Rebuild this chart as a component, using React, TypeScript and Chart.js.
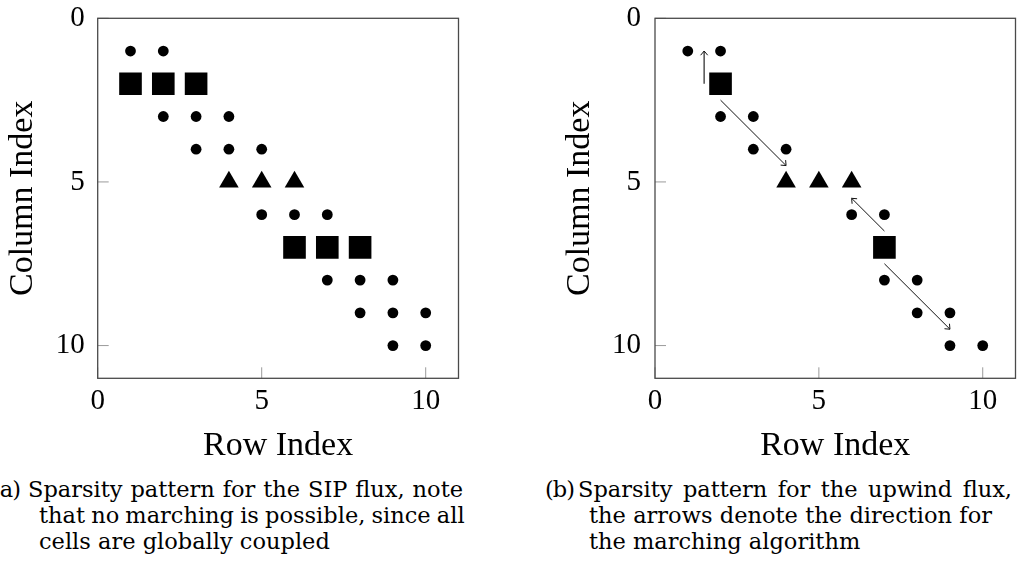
import React, { useEffect, useRef } from "react";
import { Chart, registerables } from "chart.js";

Chart.register(...registerables);

// ---- data ----
const axisMin = 0;
const axisMax = 11;
const xTickValues = [0, 5, 10];
const yTickValues = [0, 5, 10];
const xAxisTitle = "Row Index";
const yAxisTitle = "Column Index";

// (a) SIP flux sparsity pattern: [row, column]
const sipCircles = [
  [1, 1], [2, 1],
  [2, 3], [3, 3], [4, 3],
  [3, 4], [4, 4], [5, 4],
  [5, 6], [6, 6], [7, 6],
  [7, 8], [8, 8], [9, 8],
  [8, 9], [9, 9], [10, 9],
  [9, 10], [10, 10],
];
const sipSquares = [[1, 2], [2, 2], [3, 2], [6, 7], [7, 7], [8, 7]];
const sipTriangles = [[4, 5], [5, 5], [6, 5]];

// (b) upwind flux sparsity pattern
const upwindCircles = [
  [1, 1], [2, 1],
  [2, 3], [3, 3],
  [3, 4], [4, 4],
  [6, 6], [7, 6],
  [7, 8], [8, 8],
  [8, 9], [9, 9],
  [9, 10], [10, 10],
];
const upwindSquares = [[2, 2], [7, 7]];
const upwindTriangles = [[4, 5], [5, 5], [6, 5]];
// marching arrows: [x0, y0, x1, y1]
const upwindArrows = [
  [1.5, 2, 1.5, 1],
  [2, 2.5, 4, 4.5],
  [7, 6.5, 6, 5.5],
  [7, 7.5, 9, 9.5],
];

const captionALabel = "(a)";
const captionALines = [
  "Sparsity pattern for the SIP flux, note",
  "that no marching is possible, since all",
  "cells are globally coupled",
];
const captionBLabel = "(b)";
const captionBLines = [
  "Sparsity pattern for the upwind flux,",
  "the arrows denote the direction for",
  "the marching algorithm",
];

const toPts = (arr: number[][]) => arr.map(([x, y]) => ({ x, y }));

type PanelProps = {
  left: number;
  width: number;
  height: number;
  yAxisWidth: number;
  padRight: number;
  yTitlePad: number;
  yTickPad: number;
  circles: number[][];
  squares: number[][];
  triangles: number[][];
  arrows: number[][];
};

function Panel(props: PanelProps) {
  const ref = useRef<HTMLCanvasElement | null>(null);
  useEffect(() => {
    const canvas = ref.current;
    if (!canvas) return;
    const chartTop = 18.3;
    const plotBottom = 378.3;
    const xAxisHeight = props.height - plotBottom;

    const decorPlugin = {
      id: "decor",
      afterDatasetsDraw(chart: any) {
        const { ctx, chartArea } = chart;
        const xs = chart.scales.x;
        const ys = chart.scales.y;
        ctx.save();
        // arrows
        props.arrows.forEach((a, i) => {
          const x0 = xs.getPixelForValue(a[0]);
          const y0 = ys.getPixelForValue(a[1]);
          const x1 = xs.getPixelForValue(a[2]);
          const y1 = ys.getPixelForValue(a[3]);
          ctx.strokeStyle = i === 0 ? "#5a5a5a" : "#111";
          ctx.lineWidth = i === 0 ? 1.6 : 1;
          ctx.beginPath();
          ctx.moveTo(x0, y0);
          ctx.lineTo(x1, y1);
          ctx.stroke();
          const ang = Math.atan2(y1 - y0, x1 - x0);
          const hl = 5.5;
          ctx.strokeStyle = "#111";
          ctx.lineWidth = 1;
          ctx.beginPath();
          ctx.moveTo(x1 - hl * Math.cos(ang - 0.7), y1 - hl * Math.sin(ang - 0.7));
          ctx.lineTo(x1, y1);
          ctx.lineTo(x1 - hl * Math.cos(ang + 0.7), y1 - hl * Math.sin(ang + 0.7));
          ctx.stroke();
        });
        // inward ticks
        ctx.strokeStyle = "#9a9a9a";
        ctx.lineWidth = 1;
        xs.ticks.forEach((t: any) => {
          const px = xs.getPixelForValue(t.value);
          ctx.beginPath();
          ctx.moveTo(px, chartArea.bottom);
          ctx.lineTo(px, chartArea.bottom - 11);
          ctx.stroke();
        });
        ys.ticks.forEach((t: any) => {
          const py = ys.getPixelForValue(t.value);
          ctx.beginPath();
          ctx.moveTo(chartArea.left, py);
          ctx.lineTo(chartArea.left + 11, py);
          ctx.stroke();
        });
        // frame
        ctx.strokeStyle = "#4a4a4a";
        ctx.lineWidth = 1.3;
        ctx.strokeRect(
          chartArea.left,
          chartArea.top,
          chartArea.right - chartArea.left,
          chartArea.bottom - chartArea.top
        );
        ctx.restore();
      },
    };

    const tickFont = { family: "'Liberation Serif'", size: 29 };
    const titleFont = { family: "'Liberation Serif'", size: 34 };

    const chart = new Chart(canvas, {
      type: "scatter",
      data: {
        datasets: [
          {
            data: toPts(props.circles),
            pointStyle: "circle",
            pointRadius: 5.4,
            backgroundColor: "#000",
            borderWidth: 0,
          },
          {
            data: toPts(props.squares),
            pointStyle: "rect",
            pointRadius: 16,
            backgroundColor: "#000",
            borderWidth: 0,
          },
          {
            data: toPts(props.triangles),
            pointStyle: "triangle",
            pointRadius: 11.3,
            backgroundColor: "#000",
            borderWidth: 0,
          },
        ],
      },
      plugins: [decorPlugin],
      options: {
        animation: false,
        responsive: false,
        devicePixelRatio: 1,
        events: [],
        layout: {
          autoPadding: false,
          padding: { top: chartTop, right: props.padRight, left: 0, bottom: 0 },
        },
        plugins: { legend: { display: false }, tooltip: { enabled: false } },
        scales: {
          x: {
            type: "linear",
            position: "bottom",
            min: axisMin,
            max: axisMax,
            afterBuildTicks: (s: any) => {
              s.ticks = xTickValues.map((v) => ({ value: v }));
            },
            afterFit: (s: any) => {
              s.height = xAxisHeight;
              s.paddingLeft = 0;
              s.paddingRight = 0;
              s.paddingTop = 0;
              s.paddingBottom = 0;
            },
            grid: { display: false, drawTicks: false },
            border: { display: false },
            ticks: { font: tickFont, color: "#000", padding: 5.5, maxRotation: 0, autoSkip: false },
            title: {
              display: true,
              text: xAxisTitle,
              font: titleFont,
              color: "#000",
              padding: { top: 0, bottom: 3.3 },
            },
          },
          y: {
            type: "linear",
            reverse: true,
            min: axisMin,
            max: axisMax,
            afterBuildTicks: (s: any) => {
              s.ticks = yTickValues.map((v) => ({ value: v }));
            },
            afterFit: (s: any) => {
              s.width = props.yAxisWidth;
              s.paddingLeft = 0;
              s.paddingRight = 0;
              s.paddingTop = 0;
              s.paddingBottom = 0;
            },
            grid: { display: false, drawTicks: false },
            border: { display: false },
            ticks: { font: tickFont, color: "#000", padding: props.yTickPad, autoSkip: false },
            title: {
              display: true,
              text: yAxisTitle,
              font: titleFont,
              color: "#000",
              padding: { top: props.yTitlePad, bottom: 0 },
            },
          },
        },
      } as any,
    });
    return () => chart.destroy();
  }, []);
  return (
    <canvas
      ref={ref}
      width={props.width}
      height={props.height}
      style={{ position: "absolute", left: props.left, top: 0, width: props.width, height: props.height }}
    />
  );
}

const capFont: React.CSSProperties = {
  position: "absolute",
  fontFamily: "'DejaVu Serif'",
  fontSize: 22.5,
  lineHeight: "26px",
  whiteSpace: "nowrap",
  color: "#000",
};

type CaptionProps = {
  label: string;
  lines: string[];
  labelLeft: number;
  firstLeft: number;
  restLeft: number;
  widths: number[];
  spacing: number[];
};

function Caption(props: CaptionProps) {
  const tops = [476.2, 502.2, 527.6];
  return (
    <>
      <div style={{ ...capFont, left: props.labelLeft, top: tops[0], letterSpacing: -1 }}>{props.label}</div>
      {props.lines.map((l, i) => (
        <div
          key={i}
          style={{
            ...capFont,
            left: i === 0 ? props.firstLeft : props.restLeft,
            top: tops[i],
            width: props.widths[i],
            textAlign: "justify",
            textAlignLast: i < 2 ? "justify" : "left",
            wordSpacing: props.spacing[i],
          }}
        >
          {l}
        </div>
      ))}
    </>
  );
}

export default function App() {
  return (
    <div
      style={{
        position: "fixed",
        left: 0,
        top: 0,
        width: 1019,
        height: 577,
        background: "#fff",
        overflow: "hidden",
      }}
    >
      <Panel
        left={0}
        width={470}
        height={470}
        yAxisWidth={97.7}
        padRight={11.5}
        yTitlePad={2.2}
        yTickPad={13}
        circles={sipCircles}
        squares={sipSquares}
        triangles={sipTriangles}
        arrows={[]}
      />
      <Panel
        left={550}
        width={469}
        height={470}
        yAxisWidth={105}
        padRight={3.5}
        yTitlePad={9.2}
        yTickPad={14}
        circles={upwindCircles}
        squares={upwindSquares}
        triangles={upwindTriangles}
        arrows={upwindArrows}
      />
      <Caption
        label={captionALabel}
        lines={captionALines}
        labelLeft={-8}
        firstLeft={28}
        restLeft={39}
        widths={[435, 425, 400]}
        spacing={[0, -1, 0]}
      />
      <Caption
        label={captionBLabel}
        lines={captionBLines}
        labelLeft={545}
        firstLeft={578}
        restLeft={589}
        widths={[434, 403, 400]}
        spacing={[0, 0, 0]}
      />
    </div>
  );
}
